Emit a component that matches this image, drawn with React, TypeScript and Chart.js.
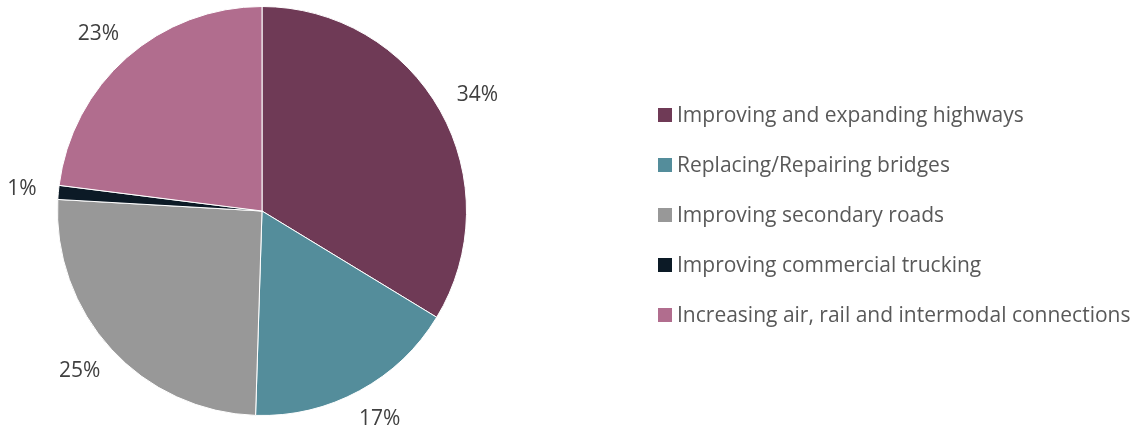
import React, { useEffect, useRef } from "react";
import { Chart, registerables } from "chart.js";

Chart.register(...registerables);

const categories = [
  "Improving and expanding highways",
  "Replacing/Repairing bridges",
  "Improving secondary roads",
  "Improving commercial trucking",
  "Increasing air, rail and intermodal connections",
];
const shares = [33.7, 16.8, 25.4, 1.1, 23.0];
const sliceColors = ["#6F3A56", "#548D9B", "#989898", "#0C1A26", "#B16D8E"];

const FONT = "'Open Sans', 'DejaVu Sans', sans-serif";

const W = 1137;
const H = 431;

const pctLabelPlugin = {
  id: "pctLabels",
  afterDatasetsDraw(chart: any) {
    const ctx = chart.ctx;
    const meta = chart.getDatasetMeta(0);
    const data = chart.data.datasets[0].data as number[];
    const total = data.reduce((a, b) => a + b, 0);
    ctx.save();
    ctx.font = `21px ${FONT}`;
    ctx.fillStyle = "#404040";
    ctx.textAlign = "center";
    ctx.textBaseline = "middle";
    meta.data.forEach((arc: any, i: number) => {
      const p = arc.getProps(["x", "y", "startAngle", "endAngle", "outerRadius"], true);
      const mid = (p.startAngle + p.endAngle) / 2;
      const txt = Math.round((data[i] / total) * 100) + "%";
      const w = ctx.measureText(txt).width;
      const h = 20;
      const gap = 22;
      const c = Math.cos(mid);
      const s = Math.sin(mid);
      const ax = p.x + (p.outerRadius + gap) * c;
      const ay = p.y + (p.outerRadius + gap) * s;
      ctx.fillText(txt, ax + (w / 2) * c, ay + (h / 2) * s);
    });
    ctx.restore();
  },
};

const legendPlugin = {
  id: "sideLegend",
  afterDraw(chart: any) {
    const ctx = chart.ctx;
    const labels = chart.data.labels as string[];
    const colors = chart.data.datasets[0].backgroundColor as string[];
    ctx.save();
    ctx.font = `21px ${FONT}`;
    ctx.textAlign = "left";
    ctx.textBaseline = "middle";
    const boxX = 658;
    const box = 14;
    const top = 115;
    const step = 50;
    labels.forEach((lab, i) => {
      const cy = top + i * step;
      ctx.fillStyle = colors[i];
      ctx.fillRect(boxX, cy - box / 2, box, box);
      ctx.fillStyle = "#595959";
      ctx.fillText(lab, boxX + box + 5, cy + 1);
    });
    ctx.restore();
  },
};

export default function App() {
  const ref = useRef<HTMLCanvasElement | null>(null);
  useEffect(() => {
    if (!ref.current) return;
    const chart = new Chart(ref.current, {
      type: "pie",
      data: {
        labels: categories,
        datasets: [
          {
            data: shares,
            backgroundColor: sliceColors,
            borderColor: "#ffffff",
            borderWidth: 1,
          },
        ],
      },
      options: {
        responsive: false,
        maintainAspectRatio: false,
        animation: false,
        devicePixelRatio: 1,
        layout: { padding: { left: 57, top: 6, right: 670, bottom: 15 } },
        plugins: {
          legend: { display: false },
          tooltip: { enabled: false },
        },
      },
      plugins: [pctLabelPlugin, legendPlugin],
    });
    return () => chart.destroy();
  }, []);
  return (
    <div style={{ position: "absolute", left: 0, top: 0, width: W, height: H, background: "#fff" }}>
      <canvas ref={ref} width={W} height={H} style={{ display: "block" }} />
    </div>
  );
}
